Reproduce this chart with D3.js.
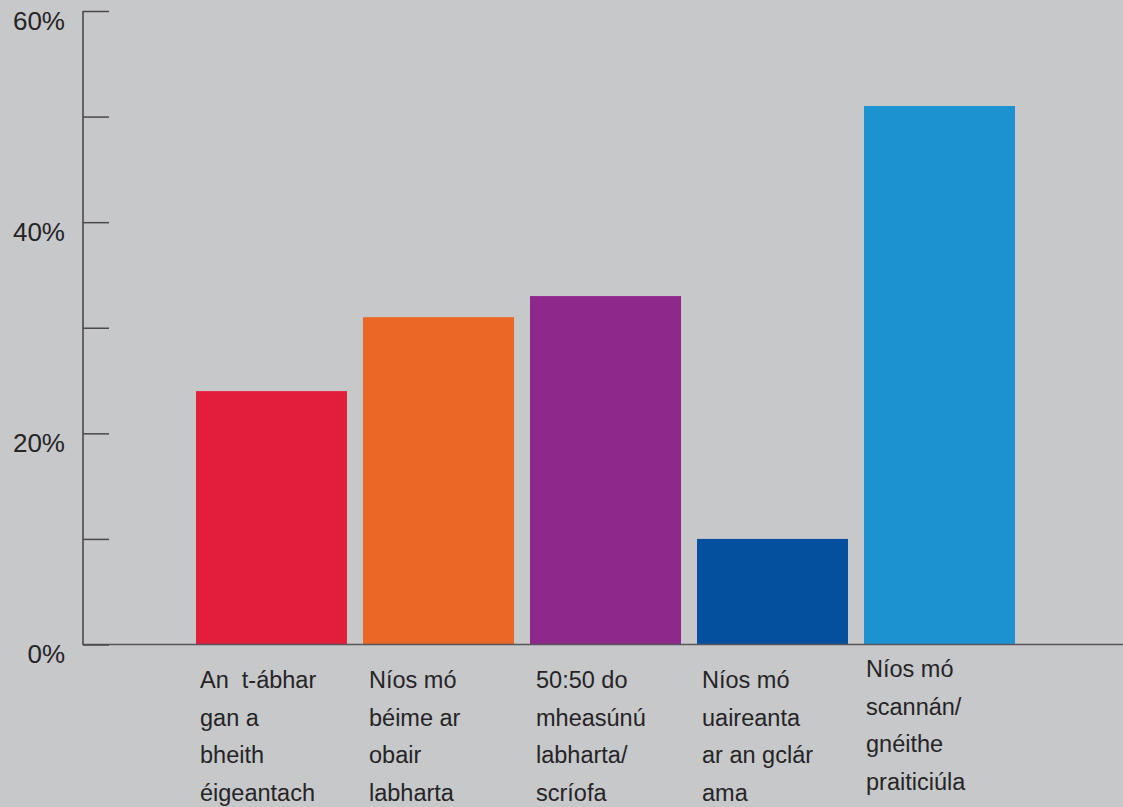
<!DOCTYPE html>
<html><head><meta charset="utf-8">
<script src="https://cdn.jsdelivr.net/npm/d3@7"></script>
<style>
html,body{margin:0;padding:0;background:#c7c8ca;}
svg{display:block;}
text{font-family:"Liberation Sans",Arial,sans-serif;fill:#262426;white-space:pre;}
</style></head>
<body>
<script>
const categories = [
  ["An  t-ábhar","gan a","bheith","éigeantach"],
  ["Níos mó","béime ar","obair","labharta"],
  ["50:50 do","mheasúnú","labharta/","scríofa"],
  ["Níos mó","uaireanta","ar an gclár","ama"],
  ["Níos mó","scannán/","gnéithe","praiticiúla"]
];
const values = [24, 31, 33, 10, 51];
const colors = ["#e31d3c","#ea6725","#8f288b","#05509e","#1c93d0"];
const yTicks = [0,10,20,30,40,50,60];
const yTickLabels = {0:"0%",20:"20%",40:"40%",60:"60%"};

const W = 1123, H = 807;
const svg = d3.select("body").append("svg").attr("width", W).attr("height", H);
svg.append("rect").attr("width", W).attr("height", H).attr("fill", "#c7c8ca");

const axisX = 83;
const y = d3.scaleLinear().domain([0, 60]).range([644.5, 11]);
const x = d3.scaleBand().domain(d3.range(values.length)).range([188, 1023])
  .paddingInner(16/167).paddingOuter(8/167);

// bars
svg.selectAll("rect.bar").data(values).join("rect")
  .attr("class","bar")
  .attr("x", (d,i) => x(i))
  .attr("width", x.bandwidth())
  .attr("y", d => y(d))
  .attr("height", d => y(0) - y(d))
  .attr("fill", (d,i) => colors[i]);

// baseline
svg.append("line").attr("x1", axisX).attr("x2", W).attr("y1", y(0)).attr("y2", y(0))
  .attr("stroke", "#58565a").attr("stroke-width", 1.6);

// y axis with inward ticks
const yAxis = d3.axisRight(y).tickValues(yTicks).tickSize(26).tickFormat("");
const g = svg.append("g").attr("transform", `translate(${axisX},0)`).call(yAxis);
g.select(".domain").remove();
g.selectAll(".tick line").attr("stroke", "#4a484c").attr("stroke-width", 1.5);
svg.append("line").attr("x1", axisX).attr("x2", axisX).attr("y1", y(60)).attr("y2", y(0)+0.8)
  .attr("stroke", "#4a484c").attr("stroke-width", 1.6);

// y labels
svg.selectAll("text.ylab").data(yTicks.filter(t => yTickLabels[t] !== undefined)).join("text")
  .attr("class","ylab")
  .attr("x", 65).attr("y", d => y(d) + 18.5)
  .attr("text-anchor","end")
  .attr("font-size", 26)
  .text(d => yTickLabels[d]);

// category labels
const labelOffsets = [4, 6, 6, 5, 2];
const labelTop = [688, 688, 688, 688, 677];
const lab = svg.selectAll("text.cat").data(categories).join("text")
  .attr("class","cat")
  .attr("font-size", 23.5)
  .attr("x", (d,i) => x(i) + labelOffsets[i])
  .attr("y", (d,i) => labelTop[i]);
lab.selectAll("tspan").data((d,i) => d.map(s => ({s, i}))).join("tspan")
  .attr("x", d => x(d.i) + labelOffsets[d.i])
  .attr("dy", (d,j) => j === 0 ? 0 : 37.5)
  .text(d => d.s);
</script>
</body></html>
